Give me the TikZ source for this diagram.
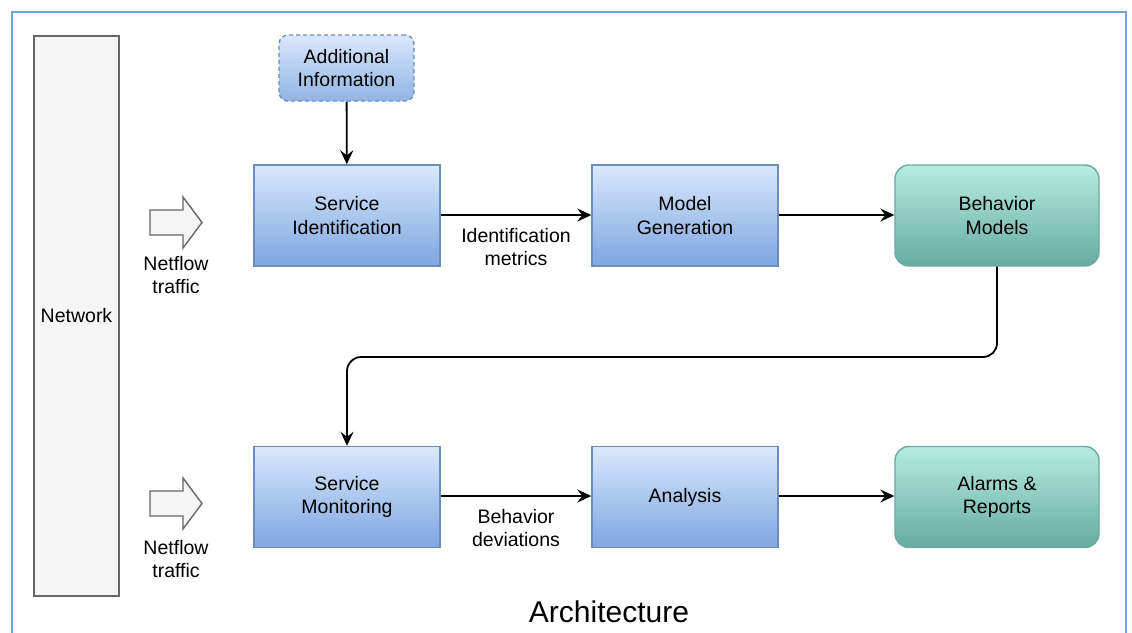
\documentclass[tikz,border=0pt]{standalone}
\usepackage{fontspec}
\setmainfont{Liberation Sans}
\usetikzlibrary{arrows.meta,positioning}
\definecolor{frameblue}{HTML}{6FA3DC}
\definecolor{bluetop}{HTML}{DAE8FC}
\definecolor{bluebot}{HTML}{7EA6E0}
\definecolor{bluestroke}{HTML}{6C8EBF}
\definecolor{greentop}{HTML}{B7ECE1}
\definecolor{greenbot}{HTML}{67AB9F}
\definecolor{greystroke}{HTML}{666666}
\definecolor{greyfill}{HTML}{F5F5F5}
\tikzset{
  x=1pt, y=-1pt,
  lbl/.style={font=\fontsize{19.5}{23.5}\selectfont, align=center, text=black},
  bluebox/.style={lbl, draw=bluestroke, line width=1.4pt, top color=bluetop, bottom color=bluebot, minimum width=186pt, minimum height=101pt, inner sep=0pt},
  greenbox/.style={lbl, draw=greenbot, line width=1.4pt, top color=greentop, bottom color=greenbot, rounded corners=14pt, minimum width=204pt, minimum height=101pt, inner sep=0pt},
  conn/.style={line width=1.8pt, -{Stealth[length=14pt,width=13pt,inset=5pt]}},
  blockarrow/.style={draw=greystroke, fill=greyfill, line width=1.4pt, line join=miter},
}
\begin{document}
\begin{tikzpicture}
\useasboundingbox (0,0) rectangle (1132,632);
% frame
\draw[frameblue, line width=2.2pt] (12,640) -- (12,12) -- (1126,12) -- (1126,640);
% network
\node[lbl, draw=greystroke, fill=greyfill, line width=1.6pt, minimum width=85pt, minimum height=560pt, inner sep=0pt] (net) at (76.5,316) {Network};
% block arrows
\draw[blockarrow] (150,210) -- (183,210) -- (183,197) -- (202,222.5) -- (183,248) -- (183,235) -- (150,235) -- cycle;
\draw[blockarrow] (150,491) -- (183,491) -- (183,478) -- (202,503.5) -- (183,529) -- (183,516) -- (150,516) -- cycle;
\node[lbl] (nf1) at (176,275) {Netflow\\traffic};
\node[lbl] (nf2) at (176,559) {Netflow\\traffic};
% boxes
\node[lbl, draw=bluestroke, line width=1.4pt, dashed, dash pattern=on 4pt off 3pt, top color=bluetop, bottom color=bluebot!85!white, rounded corners=9pt, minimum width=135pt, minimum height=66pt, inner sep=0pt] (ai) at (346.5,68) {Additional\\Information};
\node[bluebox] (si) at (347,215.5) {Service\\Identification};
\node[bluebox] (mg) at (685,215.5) {Model\\Generation};
\node[greenbox] (bm) at (997,215.5) {Behavior\\Models};
\node[bluebox] (sm) at (347,497) {Service\\Monitoring};
\node[bluebox] (an) at (685,497) {Analysis};
\node[greenbox] (ar) at (997,497) {Alarms \&\\Reports};
% connectors
\draw[conn] (ai) -- (si);
\draw[conn] (si.east |- 0,215) -- node[lbl, below=9pt] {Identification\\metrics} (mg.west |- 0,215);
\draw[conn] (mg.east |- 0,215) -- (bm.west |- 0,215);
\draw[conn, rounded corners=14pt] (bm.south) -- (997,357) -- (347,357) -- (sm.north);
\draw[conn] (sm.east |- 0,496) -- node[lbl, below=9pt] {Behavior\\deviations} (an.west |- 0,496);
\draw[conn] (an.east |- 0,496) -- (ar.west |- 0,496);
% title
\node[font=\fontsize{30}{34}\selectfont] (title) at (609,612) {Architecture};
\end{tikzpicture}
\end{document}
